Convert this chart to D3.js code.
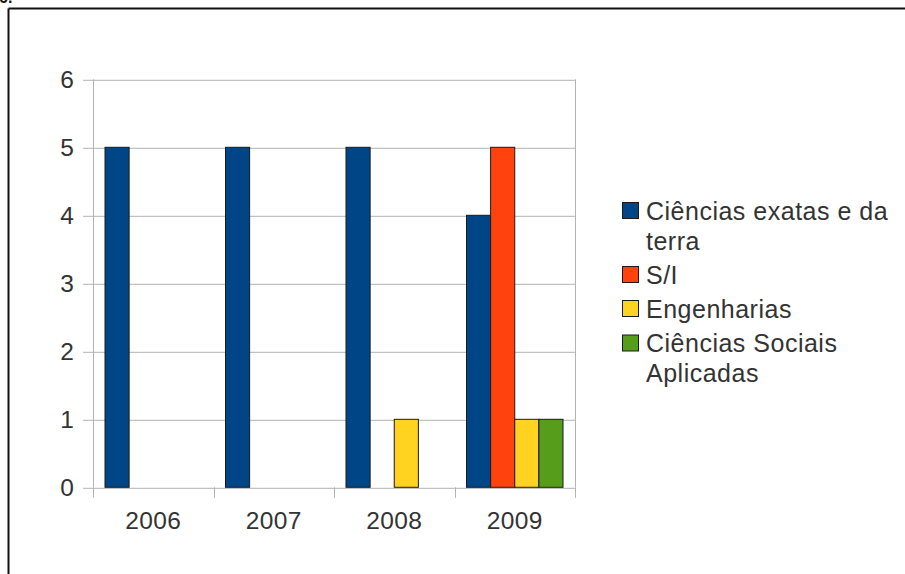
<!DOCTYPE html>
<html>
<head>
<meta charset="utf-8">
<script src="https://cdn.jsdelivr.net/npm/d3@7"></script>
<style>
  html, body { margin: 0; padding: 0; background: #fff; }
  svg { display: block; }
  text { font-family: "Liberation Sans", Arial, sans-serif; }
</style>
</head>
<body>
<svg id="chart" width="905" height="574"></svg>
<script>
// Years on the category axis
const years = ["2006", "2007", "2008", "2009"];

// One array of counts per knowledge area
const cienciasExatas = [5, 5, 5, 4];
const semInformacao = [0, 0, 0, 5];
const engenharias = [0, 0, 1, 1];
const sociaisAplicadas = [0, 0, 0, 1];

const seriesNames = [
  ["Ciências exatas e da", "terra"],
  ["S/I"],
  ["Engenharias"],
  ["Ciências Sociais", "Aplicadas"]
];
const seriesColors = ["#004586", "#ff420e", "#ffd320", "#579d1c"];
const yTicks = [0, 1, 2, 3, 4, 5, 6];

const seriesValues = [cienciasExatas, semInformacao, engenharias, sociaisAplicadas];

const svg = d3.select("#chart");
const gridColor = "#b3b3b3";
const textColor = "#333333";

// Frame around the chart (top and left edges)
svg.append("line").attr("x1", 8.5).attr("x2", 905).attr("y1", 8.5).attr("y2", 8.5)
  .attr("stroke", "#111").attr("stroke-width", 2);
svg.append("line").attr("x1", 8.5).attr("x2", 8.5).attr("y1", 8.5).attr("y2", 574)
  .attr("stroke", "#111").attr("stroke-width", 2);
// Section number above the frame
svg.append("text").attr("x", -1).attr("y", 2.5)
  .attr("font-size", 16).attr("font-weight", "bold").attr("fill", "#111").text("6.");

const plot = { left: 93, right: 575, top: 79.3, bottom: 487.3 };

const x = d3.scaleBand().domain(years).range([plot.left, plot.right]).paddingInner(0).paddingOuter(0);
// Bars of a year share the band, leaving 12px on each side
const xInner = d3.scaleBand().domain(d3.range(seriesValues.length))
  .range([12, x.bandwidth() - 12]).paddingInner(0).paddingOuter(0);

const y = d3.scaleLinear().domain([0, 6]).range([plot.bottom, plot.top]);

// Horizontal gridlines with tick marks on the left
const yAxis = d3.axisLeft(y).tickValues(yTicks).tickSize(-(plot.right - plot.left)).tickFormat("");
const gy = svg.append("g").attr("transform", `translate(${plot.left},0)`).call(yAxis);
gy.select(".domain").remove();
gy.selectAll(".tick line").attr("stroke", gridColor).attr("stroke-width", 1)
  .attr("x1", -10).attr("x2", plot.right - plot.left)
  .attr("transform", "translate(0,0.5)");

// Y tick labels
svg.append("g").selectAll("text").data(yTicks).join("text")
  .attr("x", 74).attr("y", d => y(d) + 8.8)
  .attr("text-anchor", "end").attr("font-size", 24.5).attr("fill", textColor)
  .text(d => d);

// Vertical axis line and right border of plot area
[plot.left, plot.right].forEach(px => {
  svg.append("line").attr("x1", px + 0.5).attr("x2", px + 0.5)
    .attr("y1", plot.top).attr("y2", plot.bottom)
    .attr("stroke", gridColor).attr("stroke-width", 1);
});

// Category boundary ticks below the x axis
const boundaries = years.map(d => x(d)).concat([plot.right]);
svg.append("g").selectAll("line").data(boundaries).join("line")
  .attr("x1", d => Math.round(d) + 0.5).attr("x2", d => Math.round(d) + 0.5)
  .attr("y1", plot.bottom).attr("y2", plot.bottom + 10.5)
  .attr("stroke", gridColor).attr("stroke-width", 1);

// Bars
const barData = [];
seriesValues.forEach((vals, si) => {
  vals.forEach((v, yi) => {
    if (v > 0) barData.push({ year: years[yi], series: si, value: v });
  });
});
svg.append("g").selectAll("rect").data(barData).join("rect")
  .attr("x", d => x(d.year) + xInner(d.series))
  .attr("y", d => y(d.value))
  .attr("width", xInner.bandwidth())
  .attr("height", d => y(0) - y(d.value))
  .attr("fill", d => seriesColors[d.series])
  .attr("stroke", "#1a1a1a").attr("stroke-width", 1);

// X labels
svg.append("g").selectAll("text").data(years).join("text")
  .attr("x", d => x(d) + x.bandwidth() / 2).attr("y", 528.5)
  .attr("text-anchor", "middle").attr("font-size", 24.5).attr("fill", textColor)
  .attr("letter-spacing", 0.4)
  .text(d => d);

// Legend
const legendTop = [219.5, 283.5, 317.5, 352];
const legend = svg.append("g");
seriesNames.forEach((lines, i) => {
  const base = legendTop[i];
  legend.append("rect")
    .attr("x", 622.5).attr("y", base - 17).attr("width", 16).attr("height", 16)
    .attr("fill", seriesColors[i]).attr("stroke", "#1a1a1a").attr("stroke-width", 1);
  lines.forEach((t, li) => {
    legend.append("text").attr("x", 646).attr("y", base + li * 30)
      .attr("font-size", 25).attr("fill", textColor).attr("letter-spacing", 0.5)
      .text(t);
  });
});
</script>
</body>
</html>
